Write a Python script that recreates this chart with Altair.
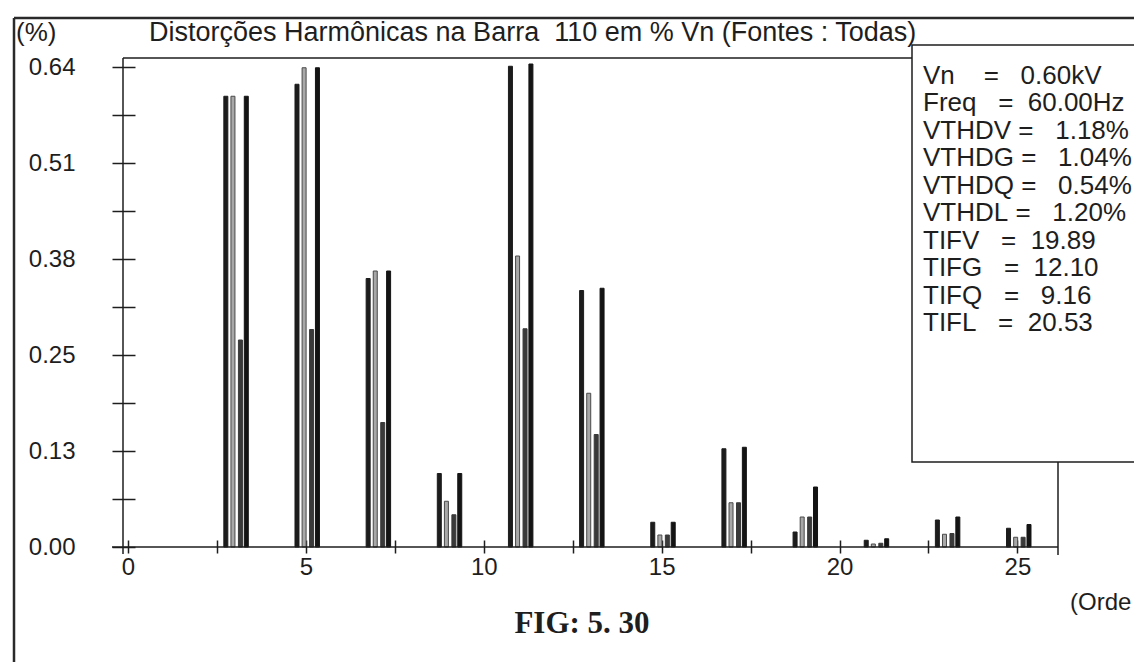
import altair as alt
import pandas as pd

# ---------------- data ----------------
harmonics = [3, 5, 7, 9, 11, 13, 15, 17, 19, 21, 23, 25]
vals_v = [0.601, 0.617, 0.358, 0.098, 0.641, 0.342, 0.033, 0.131, 0.020, 0.009, 0.036, 0.025]
vals_g = [0.601, 0.639, 0.368, 0.061, 0.388, 0.205, 0.016, 0.059, 0.040, 0.004, 0.017, 0.013]
vals_q = [0.276, 0.290, 0.166, 0.043, 0.291, 0.150, 0.016, 0.059, 0.040, 0.005, 0.018, 0.013]
vals_l = [0.601, 0.639, 0.368, 0.098, 0.644, 0.345, 0.033, 0.133, 0.080, 0.011, 0.040, 0.030]
series_names = ["V", "G", "Q", "L"]

y_tick_labels = ["0.00", "0.13", "0.25", "0.38", "0.51", "0.64"]
x_label_values = [0, 5, 10, 15, 20, 25]

legend_names = ["Vn", "Freq", "VTHDV", "VTHDG", "VTHDQ", "VTHDL", "TIFV", "TIFG", "TIFQ", "TIFL"]
legend_values = ["0.60kV", "60.00Hz", "1.18%", "1.04%", "0.54%", "1.20%", "19.89", "12.10", "9.16", "20.53"]

title_words = ["Distorções Harmônicas na Barra", "110 em % Vn (Fontes : Todas)"]
y_unit_text = "(%)"
x_unit_text = "(Orde"
fig_text = "FIG: 5. 30"

# ---------------- styles ----------------
FONT = "Liberation Sans, Arial, DejaVu Sans"
SERIF = "Liberation Serif, Times New Roman, DejaVu Serif"
INK = "#1e1e1e"
offsets = {"V": -0.25, "G": -0.05, "Q": 0.16, "L": 0.325}
bar_widths = [4, 4, 6, 4]
bar_colors = ["#1c1c1c", "#a8a8a8", "#3a3a3a", "#141414"]
bar_strokes = ["#1c1c1c", "#4a4a4a", "#3a3a3a", "#141414"]
# spacing (non-breaking spaces) before "=" and before the value
pad_eq = [4, 3, 1, 1, 1, 1, 3, 3, 3, 3]
pad_val = [3, 2, 3, 3, 3, 3, 2, 2, 3, 2]

W, H = 935, 489
YMAX = 0.652

# ---------------- tables ----------------
rows = []
for s, vals in zip(series_names, [vals_v, vals_g, vals_q, vals_l]):
    for h, v in zip(harmonics, vals):
        rows.append({"harmonic": h, "series": s, "value": v})
df = pd.DataFrame(rows)
df["pos"] = df["harmonic"] + df["series"].map(offsets)

NB = "\u00a0"
legend_df = pd.DataFrame({
    "line": [n + NB * a + "=" + NB * b + v for n, v, a, b in zip(legend_names, legend_values, pad_eq, pad_val)],
    "idx": list(range(len(legend_names))),
})
title_text = (NB * 2).join(title_words)

one = pd.DataFrame({"k": [0]})

x_tick_vals = [i * 2.5 for i in range(11)]
y_tick_vals = [round(i * 0.064, 3) for i in range(11)]
y_label_arr = "[" + ",".join("'" + t + "'" for t in y_tick_labels) + "]"
y_label_expr = (
    "round(datum.value/0.064) % 2 == 0 ? " + y_label_arr + "[round(datum.value/0.064)/2] : ''"
)
x_label_expr = "indexof(" + str(x_label_values) + ", datum.value) >= 0 ? format(datum.value, 'd') : ''"

xscale = alt.Scale(domain=[0, 26], nice=False, zero=False)
yscale = alt.Scale(domain=[0, YMAX], nice=False)

bars = alt.Chart(df).mark_bar(strokeWidth=1).encode(
    x=alt.X("pos:Q", scale=xscale,
            axis=alt.Axis(values=x_tick_vals, labelExpr=x_label_expr, domain=False, grid=False,
                          offset=-7, tickSize=13, tickColor=INK, tickWidth=1.5,
                          labelFont=FONT, labelFontSize=24, labelColor=INK, labelPadding=2,
                          labelFlush=False, labelOverlap=False, title=None)),
    y=alt.Y("value:Q", scale=yscale,
            axis=alt.Axis(values=y_tick_vals, labelExpr=y_label_expr, domain=False, grid=False,
                          offset=-12, tickSize=23, tickColor=INK, tickWidth=1.5,
                          labelFont=FONT, labelFontSize=24, labelColor=INK, labelPadding=37,
                          labelFlush=False, labelOverlap=False, title=None)),
    color=alt.Color("series:N", scale=alt.Scale(domain=series_names, range=bar_colors), legend=None),
    stroke=alt.Stroke("series:N", scale=alt.Scale(domain=series_names, range=bar_strokes), legend=None),
    size=alt.Size("series:N", scale=alt.Scale(domain=series_names, range=bar_widths), legend=None),
)


def rule(x1, x2, y1, y2, color=INK, w=1.5):
    return alt.Chart(one).mark_rule(color=color, strokeWidth=w).encode(
        x=alt.value(x1), x2=alt.value(x2), y=alt.value(y1), y2=alt.value(y2))


frame_top = rule(-109, 1030, -40, -40, "#2a2a2a", 2.5)
frame_left = rule(-109, -109, -40, 620, "#2a2a2a", 2.5)
plot_top = rule(0, 789, 0, 0)
y_line = rule(0, 0, 0, 496)
baseline = rule(-11, W, H, H)
right_line = rule(W, W, 404, 497)

legend_box = alt.Chart(one).mark_rect(fill="white", stroke=INK, strokeWidth=1.5).encode(
    x=alt.value(789), x2=alt.value(1040), y=alt.value(-13), y2=alt.value(404))

legend_text = alt.Chart(legend_df).mark_text(
    align="left", baseline="middle", font=FONT, fontSize=26, color=INK
).encode(
    x=alt.value(800),
    y=alt.Y("idx:Q", scale=alt.Scale(domain=[0, 9], range=[18, 265]), axis=None),
    text="line:N",
)


def label(txt, x, y, size=26, font=FONT, weight="normal", align="left"):
    return alt.Chart(one).mark_text(
        text=txt, align=align, baseline="middle", font=font, fontSize=size,
        fontWeight=weight, color=INK
    ).encode(x=alt.value(x), y=alt.value(y))


t_unit = label(y_unit_text, -107, -25)
t_title = label(title_text, 26, -25, size=27)
t_fig = label(fig_text, 459, 566, size=31, font=SERIF, weight="bold", align="center")
t_orde = label(x_unit_text, 947, 545, size=24)

chart = alt.layer(
    frame_top, frame_left, bars, plot_top, y_line, baseline, right_line,
    legend_box, legend_text, t_unit, t_title, t_fig, t_orde
).resolve_scale(y="independent").properties(
    width=W, height=H,
    autosize=alt.AutoSizeParams(type="none"),
    padding={"left": 115, "top": 50, "right": 76, "bottom": 115},
    background="white",
).configure_view(stroke=None)

chart.save("out.html", embed_options={"renderer": "svg", "actions": False})
